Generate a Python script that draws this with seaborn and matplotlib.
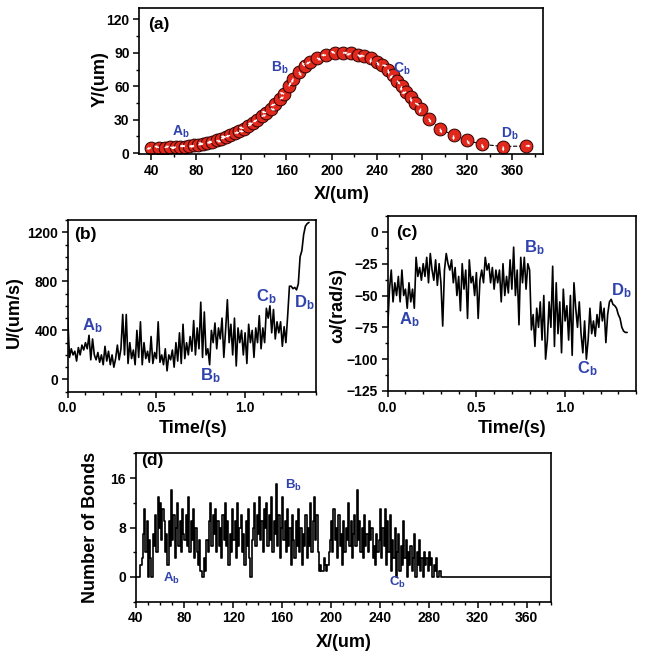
import numpy as np
import matplotlib
matplotlib.use("Agg")
import matplotlib.pyplot as plt
from matplotlib.ticker import MultipleLocator
import seaborn as sns
import pandas as pd

# ---- data ----
# (a) trajectory
traj_x = [40, 47, 52, 57, 62, 66, 70, 74, 78, 82, 86, 90, 94, 98, 102, 106, 110, 114,
          118, 122, 126, 130, 134, 138, 142, 146, 150, 154, 158, 162, 166, 171, 176,
          181, 187, 195, 203, 210, 217, 223, 229, 235, 240, 245, 250, 254, 258, 262,
          266, 270, 274, 279, 286, 296, 308, 320, 333, 352, 372]
traj_y = [5, 5, 5, 5.5, 5.5, 6, 6, 6.5, 7, 7.5, 8, 9, 10, 11.5, 13, 14.5, 16, 18,
          20, 22, 24.5, 27, 30, 33, 36.5, 40, 44, 48.5, 53, 60, 67, 73, 78,
          82, 85.5, 88, 89.5, 90, 89.5, 88.5, 87, 85, 82, 79, 75, 70, 65, 60,
          55, 50, 45, 40, 31, 22, 16, 11.5, 8, 6, 6.5]
# orientation mark inside each cell (degrees)
traj_angle = [200, 160, 20, 340, 190, 10, 170, 350, 200, 15, 160, 30, 190, 340, 20, 170,
              200, 10, 350, 160, 30, 190, 210, 20, 170, 340, 200, 30, 160, 60, 250,
              300, 120, 210, 330, 180, 150, 0, 200, 320, 170, 260, 300, 350, 280, 230,
              310, 260, 200, 280, 330, 250, 300, 290, 270, 300, 290, 270, 0]

# (b) translational velocity, (c) angular velocity, sampled every 0.01 s
dt = 0.01
velocity = [500, 180, 250, 200, 230, 150, 260, 200, 280, 240,
            300, 250, 360, 160, 330, 200, 160, 220, 140, 200,
            120, 270, 150, 230, 120, 200, 100, 170, 280, 160,
            250, 530, 200, 530, 130, 300, 170, 240, 120, 400,
            180, 470, 120, 300, 170, 230, 140, 350, 130, 220,
            170, 470, 140, 200, 120, 250, 70, 200, 160, 240,
            100, 300, 150, 380, 130, 450, 170, 300, 200, 350,
            230, 480, 200, 420, 250, 630, 180, 550, 200, 250,
            120, 400, 300, 460, 250, 420, 330, 500, 180, 400,
            650, 300, 450, 200, 500, 110, 420, 300, 400, 200,
            380, 130, 450, 300, 400, 180, 420, 300, 520, 250,
            420, 300, 580, 500, 600, 380, 570, 330, 470, 380,
            470, 270, 430, 300, 520, 760, 760, 740, 750, 730,
            780, 1000, 1050, 1180, 1250, 1270, 1280]
omega = [-75, -45, -30, -55, -40, -50, -35, -55, -30, -50,
         -45, -60, -40, -55, -45, -60, -20, -35, -28, -38,
         -25, -35, -20, -40, -17, -30, -38, -22, -42, -25,
         -40, -74, -30, -17, -25, -30, -22, -40, -28, -50,
         -35, -62, -25, -45, -30, -68, -22, -40, -35, -50,
         -32, -68, -38, -30, -40, -20, -30, -25, -40, -28,
         -45, -30, -40, -30, -55, -25, -50, -35, -48, -22,
         -45, -12, -50, -30, -73, -20, -40, -20, -45, -25,
         -30, -77, -65, -90, -60, -75, -55, -85, -50, -100,
         -85, -55, -75, -27, -90, -40, -80, -55, -95, -45,
         -70, -58, -85, -50, -97, -40, -60, -75, -55, -80,
         -95, -70, -100, -85, -60, -80, -70, -82, -65, -75,
         -55, -70, -60, -87, -65, -55, -53, -57, -58, -60,
         -65, -68, -75, -78, -79, -79]

# (d) number of bonds, one value per um from x = 40
bonds_x0 = 40
bonds = [0, 0, 0, 0, 2, 3, 7, 11, 4, 9,
         0, 6, 3, 0, 7, 5, 10, 4, 13, 8,
         12, 6, 11, 9, 4, 7, 2, 9, 5, 14,
         6, 10, 3, 8, 12, 5, 9, 4, 11, 7,
         6, 10, 5, 13, 4, 9, 6, 11, 3, 8,
         4, 2, 6, 1, 0, 0, 3, 1, 6, 4,
         9, 12, 5, 10, 7, 11, 4, 9, 5, 8,
         3, 10, 6, 12, 5, 9, 2, 7, 4, 11,
         6, 9, 3, 12, 5, 8, 10, 4, 7, 2,
         9, 5, 11, 3, 0, 6, 8, 12, 5, 10,
         7, 13, 6, 9, 4, 11, 8, 12, 5, 10,
         6, 13, 4, 9, 7, 15, 5, 10, 3, 8,
         13, 6, 9, 4, 11, 5, 8, 2, 10, 6,
         3, 9, 5, 11, 4, 8, 2, 7, 5, 10,
         3, 8, 5, 12, 4, 9, 13, 6, 10, 4,
         1, 2, 1, 1, 3, 2, 1, 2, 4, 6,
         9, 4, 11, 6, 8, 3, 10, 5, 7, 2,
         9, 4, 8, 6, 12, 5, 9, 3, 7, 10,
         5, 14, 6, 9, 4, 8, 3, 10, 5, 7,
         4, 9, 6, 8, 3, 5, 2, 7, 4, 6,
         11, 3, 8, 5, 11, 2, 9, 4, 10, 1,
         6, 3, 8, 0, 4, 7, 1, 5, 2, 9,
         3, 6, 0, 4, 2, 5, 1, 3, 7, 0,
         4, 2, 6, 1, 3, 0, 4, 2, 3, 1,
         4, 2, 3, 0, 2, 1, 3, 0, 1, 1,
         0]
bonds_end_x = 380

# point labels: (text, x, y)
labels_a = [("A", 58.6, 15.4), ("B", 146, 73.5), ("C", 254, 72.6), ("D", 349.7, 14)]
labels_b = [("A", 0.081, 403), ("B", 0.745, -5), ("C", 1.062, 641), ("D", 1.277, 587)]
labels_c = [("A", 0.065, -72.8), ("B", 0.769, -15.8), ("C", 1.069, -111.5), ("D", 1.26, -49.7)]
labels_d = [("A", 62.3, -0.8), ("B", 162.4, 14.2), ("C", 247.4, -1.4)]

# ---- style ----
sns.set_theme(style="ticks")
plt.rcParams['font.family'] = ['Liberation Sans', 'DejaVu Sans']
plt.rcParams['font.weight'] = 'bold'
plt.rcParams['text.color'] = 'black'
plt.rcParams['axes.labelcolor'] = 'black'
plt.rcParams['mathtext.fontset'] = 'custom'
plt.rcParams['mathtext.bf'] = 'Liberation Sans:bold'
plt.rcParams['mathtext.rm'] = 'Liberation Sans:bold'
plt.rcParams['mathtext.it'] = 'Liberation Sans:bold'

BLUE = '#3043ad'
RED = '#e0281c'


def style_axis(ax, xlim, ylim, xmaj, xmin, ymaj, ymin, tag, tagpos):
    ax.set_xlim(*xlim)
    ax.set_ylim(*ylim)
    ax.xaxis.set_major_locator(MultipleLocator(xmaj))
    ax.xaxis.set_minor_locator(MultipleLocator(xmin))
    ax.yaxis.set_major_locator(MultipleLocator(ymaj))
    ax.yaxis.set_minor_locator(MultipleLocator(ymin))
    ax.tick_params(which='major', direction='out', length=4.5, width=1.1,
                   labelsize=10, colors='black', labelcolor='black', pad=2.5)
    ax.tick_params(which='minor', direction='out', length=2.5, width=1.0,
                   colors='black')
    for lab in ax.get_xticklabels() + ax.get_yticklabels():
        lab.set_fontweight('bold')
    for sp in ax.spines.values():
        sp.set_visible(True)
        sp.set_linewidth(1.2)
        sp.set_color('black')
    ax.text(tagpos[0], tagpos[1], tag, transform=ax.transAxes, fontsize=12.5,
            fontweight='bold', ha='left', va='center', color='black')


def put_labels(ax, items, size):
    for letter, x, y in items:
        ax.text(x, y, r'$\mathbf{%s}_\mathbf{b}$' % letter, color=BLUE,
                fontsize=size, ha='left', va='baseline')


fig = plt.figure(figsize=(6.45, 6.6), dpi=100)
ax_a = fig.add_axes([0.216, 0.7662, 0.6254, 0.2212])
ax_b = fig.add_axes([0.105, 0.4065, 0.385, 0.2602])
ax_c = fig.add_axes([0.6011, 0.4076, 0.385, 0.2652])
ax_d = fig.add_axes([0.2101, 0.0883, 0.6442, 0.2248])

# (a)
df_a = pd.DataFrame({'x': traj_x, 'y': traj_y, 'ang': traj_angle})
ax_a.plot(df_a.x, df_a.y, color='black', lw=0.8, ls='--', zorder=1)
sns.scatterplot(data=df_a, x='x', y='y', ax=ax_a, s=85, color=RED,
                edgecolor='#300000', linewidth=0.7, zorder=2)
rad = np.deg2rad(df_a.ang.to_numpy())
ax_a.quiver(df_a.x.to_numpy(), df_a.y.to_numpy(), np.cos(rad), np.sin(rad),
            color='white', units='dots', scale_units='dots', scale=0.2,
            angles='uv', width=1.4, headwidth=2.2, headlength=2.2,
            headaxislength=2, pivot='tail', zorder=3)
style_axis(ax_a, (29.6, 387), (-1, 130), 40, 20, 30, 15, '(a)', (0.022, 0.886))
put_labels(ax_a, labels_a, 10)
ax_a.set_xlabel('X/(um)', fontsize=13, fontweight='bold')
ax_a.set_ylabel('Y/(um)', fontsize=13, fontweight='bold')
ax_a.xaxis.set_label_coords(0.502, -0.215)
ax_a.yaxis.set_label_coords(-0.077, 0.516)

# (b)
df_b = pd.DataFrame({'t': np.arange(len(velocity)) * dt, 'u': velocity})
sns.lineplot(data=df_b, x='t', y='u', ax=ax_b, color='black', lw=1.2, estimator=None)
style_axis(ax_b, (0, 1.4), (-100, 1300), 0.5, 0.1, 400, 100, '(b)', (0.025, 0.913))
put_labels(ax_b, labels_b, 12)
ax_b.set_xlabel('Time/(s)', fontsize=13, fontweight='bold')
ax_b.set_ylabel('U/(um/s)', fontsize=13, fontweight='bold')
ax_b.xaxis.set_label_coords(0.503, -0.165)
ax_b.yaxis.set_label_coords(-0.181, 0.466)

# (c)
df_c = pd.DataFrame({'t': np.arange(len(omega)) * dt, 'w': omega})
sns.lineplot(data=df_c, x='t', y='w', ax=ax_c, color='black', lw=1.2, estimator=None)
style_axis(ax_c, (0, 1.4), (-125, 12.5), 0.5, 0.1, 25, 12.5, '(c)', (0.033, 0.905))
put_labels(ax_c, labels_c, 12)
ax_c.set_xlabel('Time/(s)', fontsize=13, fontweight='bold')
ax_c.set_ylabel('\u03c9/(rad/s)', fontsize=13, fontweight='bold')
ax_c.xaxis.set_label_coords(0.502, -0.165)
ax_c.yaxis.set_label_coords(-0.165, 0.487)

# (d)
bx = list(bonds_x0 + np.arange(len(bonds))) + [bonds_end_x]
df_d = pd.DataFrame({'x': bx, 'n': bonds + [0]})
sns.lineplot(data=df_d, x='x', y='n', ax=ax_d, color='black', lw=1.2,
             estimator=None, drawstyle='steps-post')
style_axis(ax_d, (40, 380), (-4, 20), 40, 10, 8, 4, '(d)', (0.0125, 0.955))
put_labels(ax_d, labels_d, 9.5)
ax_d.set_xlabel('X/(um)', fontsize=13, fontweight='bold')
ax_d.set_ylabel('Number of Bonds', fontsize=13, fontweight='bold')
ax_d.xaxis.set_label_coords(0.501, -0.22)
ax_d.yaxis.set_label_coords(-0.088, 0.503)

fig.savefig('out.png', dpi=100)
